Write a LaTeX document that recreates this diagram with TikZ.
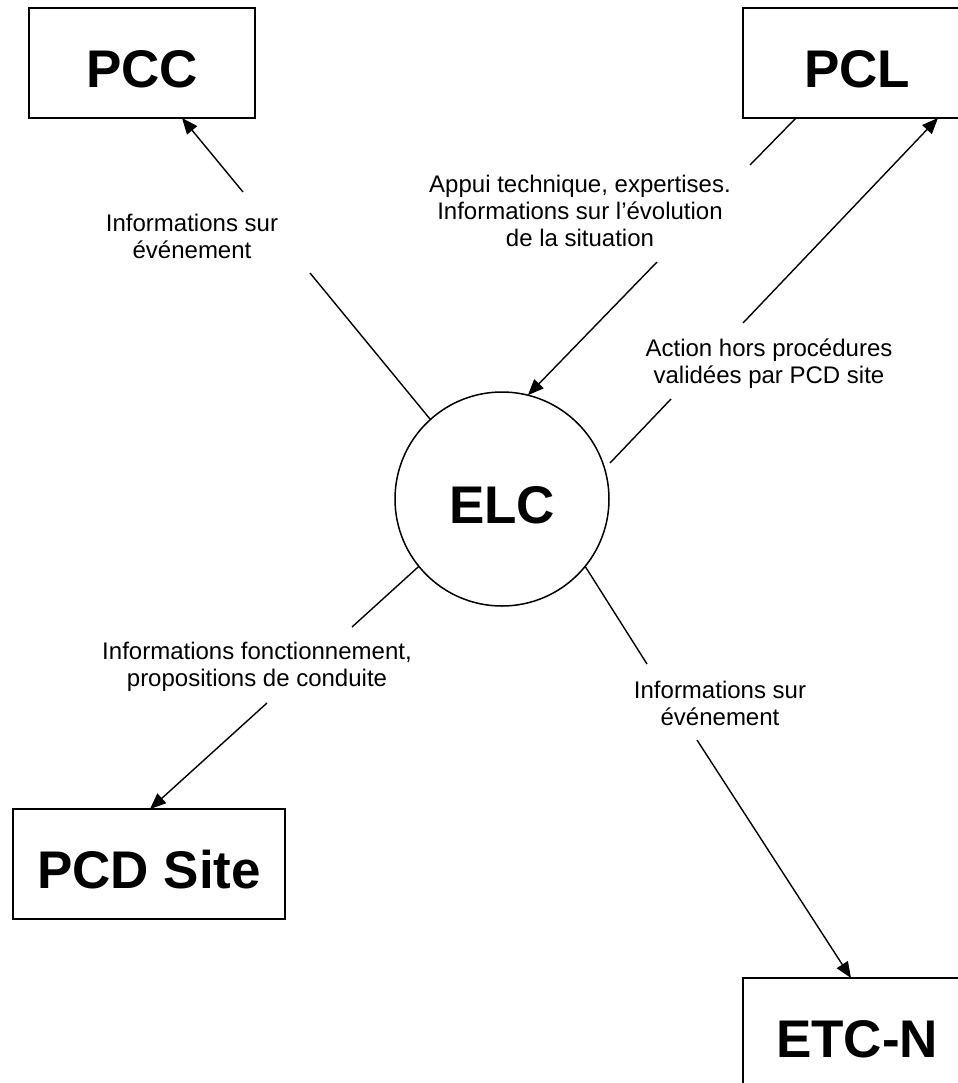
\documentclass[tikz,border=0pt]{standalone}
\usepackage{fontspec}
\setmainfont{Liberation Sans}
\usetikzlibrary{arrows.meta,calc}
\begin{document}
\begin{tikzpicture}[x=0.5pt,y=-0.5pt,
  bigtext/.style={font=\fontsize{26.5pt}{30pt}\selectfont\bfseries,text height=24pt,text depth=0pt},
  box/.style={draw,line width=0.75pt,minimum height=55pt,inner sep=0pt,outer sep=0pt,bigtext},
  hub/.style={draw,circle,line width=0.75pt,minimum size=107pt,inner sep=0pt,outer sep=0pt,bigtext},
  lbl/.style={align=center,font=\fontsize{12pt}{13.5pt}\selectfont,inner sep=0pt},
  link/.style={line width=0.7pt},
  arr/.style={link,-{Triangle[length=8pt,width=6.5pt]}}]
\clip (0,0) rectangle (958,1083);
% boxes
\node[box,minimum width=113pt] (pcc) at (142,63) {PCC};
\node[box,minimum width=114pt] (pcl) at (857,63) {PCL};
\node[box,minimum width=136pt] (pcd) at (149,864) {PCD Site};
\node[box,minimum width=114pt] (etc) at (857,1033) {ETC-N};
\node[hub] (elc) at (502,499) {ELC};
% labels
\node[lbl] (l1) at (192,236) {Informations sur\\événement};
\node[lbl] (l2) at (580,211) {Appui technique, expertises.\\Informations sur l’évolution\\de la situation};
\node[lbl] (l3) at (769,364) {Action hors procédures\\validées par PCD site};
\node[lbl] (l4) at (257,667) {Informations fonctionnement,\\propositions de conduite};
\node[lbl] (l5) at (720,703) {Informations sur\\événement};
% gap points
\coordinate (a1) at (310,273); \coordinate (a2) at (243,192);
\coordinate (b1) at (750,165); \coordinate (b2) at (657,262);
\coordinate (c1) at (671,399); \coordinate (c2) at (743,323);
\coordinate (d1) at (352,627); \coordinate (d2) at (267,703);
\coordinate (e1) at (647,664); \coordinate (e2) at (697,740);
% ELC -> PCC
\draw[link] (elc.132) -- (a1);
\draw[arr] (a2) -- ($(pcc.south)+(40,0)$);
% PCL -> ELC
\draw[link] ($(pcl.south)+(-61,0)$) -- (b1);
\draw[arr] (b2) -- (elc.76);
% ELC -> PCL
\draw[link] ($(elc.center)+(108,-36)$) -- (c1);
\draw[arr] (c2) -- ($(pcl.south)+(81,0)$);
% ELC -> PCD Site
\draw[link] (elc.219) -- (d1);
\draw[arr] (d2) -- ($(pcd.north)+(1,0)$);
% ELC -> ETC-N
\draw[link] (elc.-39.6) -- (e1);
\draw[arr] (e2) -- ($(etc.north)+(-6,0)$);
\end{tikzpicture}
\end{document}
